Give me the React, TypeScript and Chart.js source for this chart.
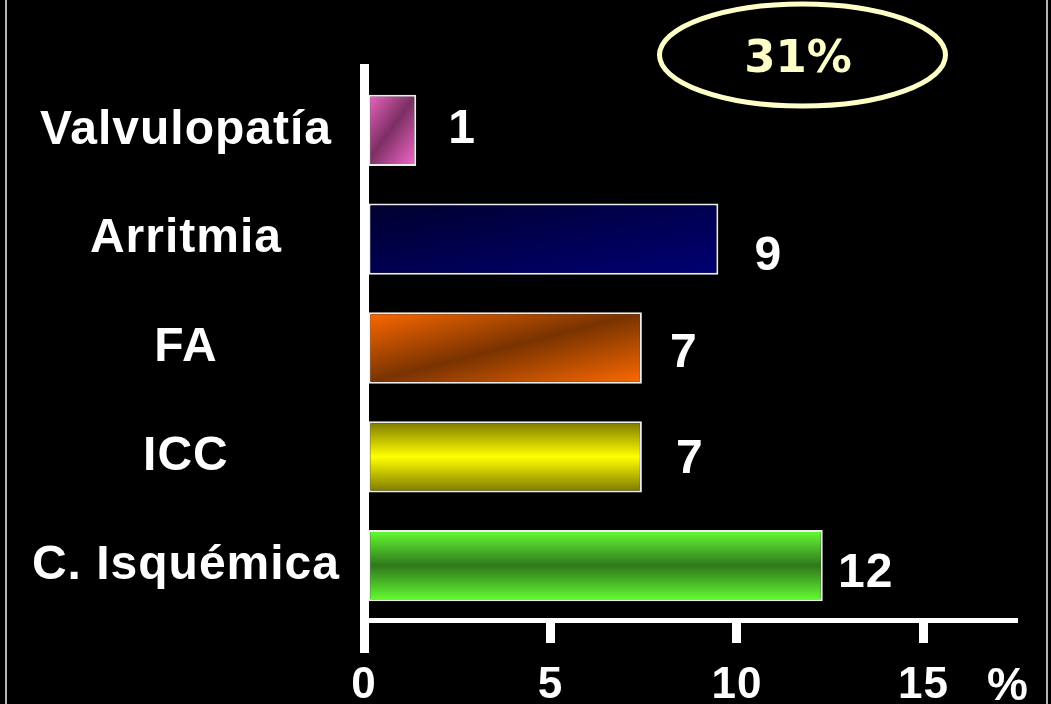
import React, { useEffect, useRef } from "react";
import { Chart, registerables } from "chart.js";

Chart.register(...registerables);

// ---- data ----
const categories = ["Valvulopatía", "Arritmia", "FA", "ICC", "C. Isquémica"];
const values = [1.4, 9.5, 7.45, 7.45, 12.3];
const valueLabels = ["1", "9", "7", "7", "12"];
const xTickValues = [0, 5, 10, 15];
const axisUnit = "%";
const totalLabel = "31%";

// ---- styles ----
const FONT = '"Liberation Sans", Arial, sans-serif';
const BAR_PCT = 0.655;
type Stop = [number, string];
const barStyles: { kind: "diag" | "vert"; stops: Stop[] }[] = [
  { kind: "diag", stops: [[0, "#FA6ACB"], [0.5, "#7C2F64"], [1, "#FA6ACB"]] },
  { kind: "diag", stops: [[0, "#00002E"], [1, "#000074"]] },
  { kind: "diag", stops: [[0, "#FF6A00"], [0.5, "#793300"], [1, "#FF6A00"]] },
  { kind: "vert", stops: [[0, "#7A7600"], [0.5, "#FFFF00"], [1, "#7A7600"]] },
  { kind: "vert", stops: [[0, "#66FF33"], [0.5, "#2F781C"], [1, "#66FF33"]] },
];
const labelDx = [46, 50, 42, 48, 43];
const labelDy = [-4, 14, 2, -1, 4];

function barFill(c: any) {
  const chart = c.chart;
  const i = c.dataIndex;
  const style = barStyles[i] || barStyles[0];
  const xs = chart.scales && chart.scales.x;
  const ys = chart.scales && chart.scales.y;
  if (!xs || !ys || !chart.chartArea || i === undefined) return style.stops[0][1];
  const x0 = xs.getPixelForValue(0);
  const x1 = xs.getPixelForValue(values[i]);
  const yc = ys.getPixelForValue(i);
  const h = ((ys.bottom - ys.top) / categories.length) * BAR_PCT;
  const y0 = yc - h / 2;
  const w = Math.max(1, x1 - x0);
  let grad: CanvasGradient;
  if (style.kind === "vert") {
    grad = chart.ctx.createLinearGradient(0, y0, 0, y0 + h);
  } else {
    const n2 = w * w + h * h;
    grad = chart.ctx.createLinearGradient(x0, y0, x0 + (2 * w * h * h) / n2, y0 + (2 * w * h * w) / n2);
  }
  style.stops.forEach(([o, col]) => grad.addColorStop(o, col));
  return grad;
}

const spacingPlugin = {
  id: "spacing",
  beforeUpdate(chart: any) {
    (chart.ctx as any).letterSpacing = "1px";
  },
  beforeDraw(chart: any) {
    (chart.ctx as any).letterSpacing = "1px";
  },
};

const decorPlugin = {
  id: "decor",
  afterDraw(chart: any) {
    const ctx = chart.ctx as CanvasRenderingContext2D;
    const xs = chart.scales.x;
    ctx.save();
    // slide frame lines
    ctx.strokeStyle = "#B4B4B4";
    ctx.lineWidth = 2;
    ctx.beginPath();
    ctx.moveTo(6, 0);
    ctx.lineTo(6, chart.height);
    ctx.moveTo(1047, 0);
    ctx.lineTo(1047, chart.height);
    ctx.stroke();

    // vertical axis extension
    const x0 = Math.round(xs.getPixelForValue(0) - 4.5) + 4.5;
    ctx.strokeStyle = "#FFFFFF";
    ctx.lineWidth = 9;
    ctx.beginPath();
    ctx.moveTo(x0, 64);
    ctx.lineTo(x0, 653);
    ctx.stroke();

    // unit label
    (ctx as any).letterSpacing = "1px";
    ctx.fillStyle = "#FFFFFF";
    ctx.font = `bold 46px ${FONT}`;
    ctx.textAlign = "center";
    ctx.textBaseline = "alphabetic";
    ctx.fillText(axisUnit, 1008, 700);

    // value labels
    const meta = chart.getDatasetMeta(0);
    ctx.font = `bold 48px ${FONT}`;
    meta.data.forEach((el: any, i: number) => {
      ctx.fillText(valueLabels[i], el.x + labelDx[i], el.y + labelDy[i] + 17);
    });

    // ellipse with total
    ctx.strokeStyle = "#FFFFC8";
    ctx.lineWidth = 5;
    ctx.beginPath();
    ctx.ellipse(802.5, 55, 143, 51, 0, 0, Math.PI * 2);
    ctx.stroke();
    (ctx as any).letterSpacing = "0px";
    ctx.fillStyle = "#FFFFC8";
    ctx.font = `bold 45px "DejaVu Sans", sans-serif`;
    ctx.fillText(totalLabel, 798, 72);
    ctx.restore();
  },
};

export default function App() {
  const ref = useRef<HTMLCanvasElement>(null);
  useEffect(() => {
    const canvas = ref.current!;
    const chart = new Chart(canvas, {
      type: "bar",
      data: {
        labels: categories,
        datasets: [
          {
            data: values,
            backgroundColor: barFill as any,
            borderColor: "#EDEDED",
            borderWidth: 2,
            borderSkipped: false,
            barPercentage: BAR_PCT,
            categoryPercentage: 1,
          },
        ],
      },
      options: {
        indexAxis: "y",
        responsive: false,
        animation: false,
        events: [],
        layout: { padding: { top: 76, right: 38, left: 0, bottom: 0 } },
        plugins: { legend: { display: false }, tooltip: { enabled: false } },
        scales: {
          x: {
            type: "linear",
            min: 0,
            max: 17.4,
            afterBuildTicks: (s: any) => {
              s.ticks = xTickValues.map((v) => ({ value: v }));
            },
            afterFit: (s: any) => {
              s.height = 84;
            },
            grid: {
              display: true,
              drawOnChartArea: false,
              drawTicks: true,
              tickLength: 23,
              lineWidth: 9,
              color: "#FFFFFF",
            },
            border: { display: true, color: "#FFFFFF", width: 5 },
            ticks: {
              color: "#FFFFFF",
              font: { family: FONT, size: 44, weight: "bold" },
              padding: 16,
              maxRotation: 0,
              autoSkip: false,
            },
          },
          y: {
            type: "category",
            afterFit: (s: any) => {
              s.width = 364;
            },
            grid: { display: false },
            border: { display: true, color: "#FFFFFF", width: 9, z: 1 },
            ticks: {
              color: "#FFFFFF",
              font: { family: FONT, size: 48, weight: "bold" },
              crossAlign: "center",
              padding: 16,
            },
          },
        },
      } as any,
      plugins: [spacingPlugin, decorPlugin],
    });
    return () => chart.destroy();
  }, []);

  return (
    <div style={{ position: "fixed", left: 0, top: 0, width: 1051, height: 704, background: "#000000" }}>
      <canvas ref={ref} width={1051} height={704} style={{ display: "block" }} />
    </div>
  );
}
